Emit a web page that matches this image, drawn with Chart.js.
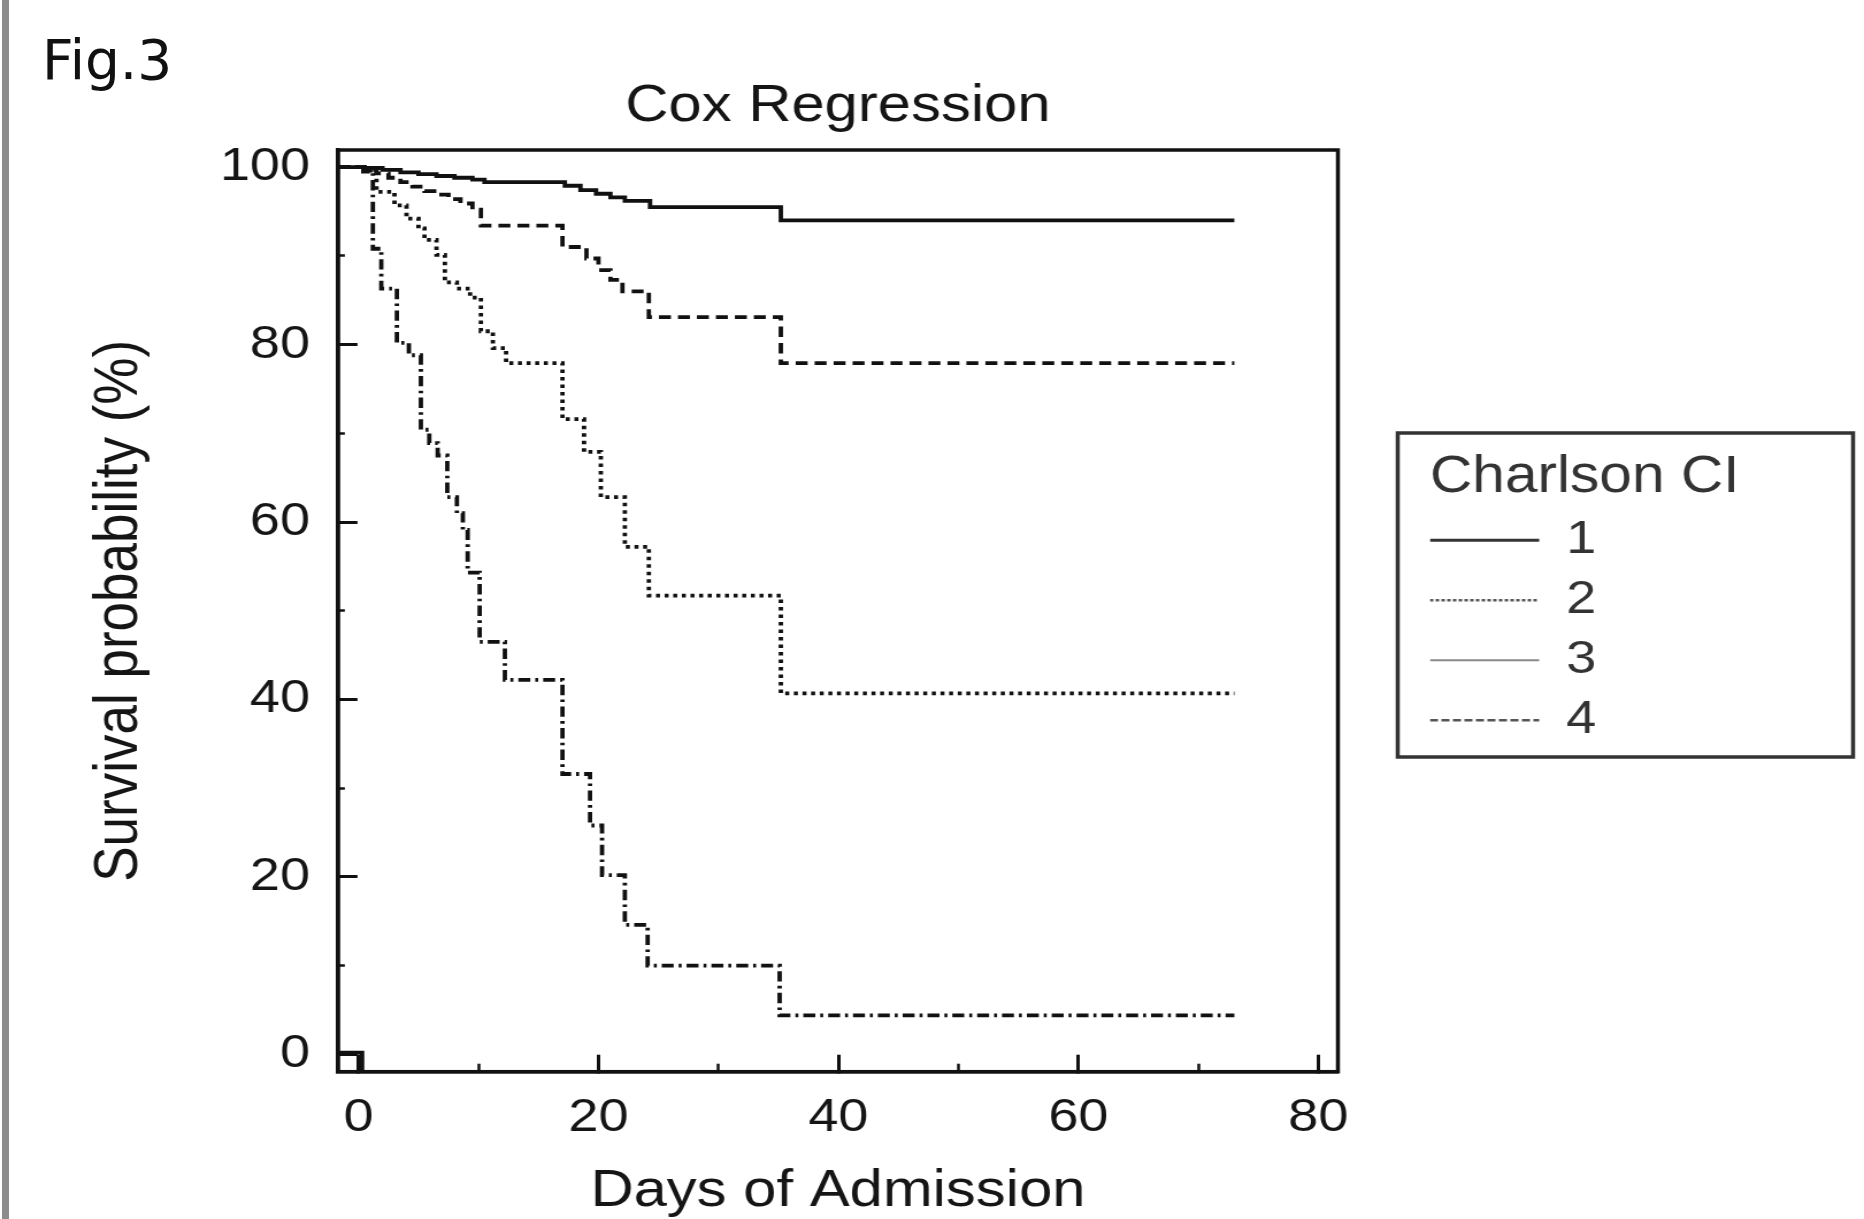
<!DOCTYPE html>
<html>
<head>
<meta charset="utf-8">
<title>Fig.3 - Cox Regression</title>
<script src="https://cdn.jsdelivr.net/npm/chart.js@4.4.1/dist/chart.umd.min.js"></script>
<style>
  html, body { margin: 0; padding: 0; background: #fff; }
  body { width: 1864px; height: 1219px; position: relative; overflow: hidden; }
  .barra { position: absolute; left: 2px; top: 0; width: 7px; height: 1219px; background: #8c8c8c; }
  .fig { position: absolute; left: 42px; top: 33px; font-family: "DejaVu Sans", Verdana, sans-serif;
         font-size: 55px; line-height: 55px; color: #111; z-index: 2; }
  #grafico { position: absolute; left: 0; top: 0; }
</style>
</head>
<body>
<div class="barra"></div>
<div class="fig">Fig.3</div>
<!-- el original viene estirado en horizontal, por eso el canvas es mas angosto que su ancho en pantalla -->
<canvas id="grafico" width="1621" height="1219" style="width:1864px;height:1219px"></canvas>
<script>
// curvas de supervivencia (dia del evento, % que sigue vivo desde ese dia)
const dias1   = [-1.7, 0.5, 2, 3.5, 5, 6.5, 8, 9.5, 10.5, 17.2, 18.5, 19.8, 21, 22.2, 24.3, 35.2, 73];
const superv1 = [100, 99.9, 99.7, 99.4, 99.2, 99.0, 98.8, 98.6, 98.3, 97.9, 97.4, 97.0, 96.6, 96.2, 95.5, 94.0, 94.0];

const dias2   = [-1.7, 0.5, 1.5, 2.5, 3.5, 4.5, 5.5, 6.5, 7.5, 8.5, 9.5, 10.2, 17.0, 19.0, 20.0, 21.0, 22.0, 24.2, 35.2, 73];
const superv2 = [100, 99.7, 99.3, 98.8, 98.3, 97.8, 97.3, 96.9, 96.4, 95.9, 95.2, 93.4, 91.0, 89.7, 88.4, 87.3, 86.0, 83.1, 77.9, 77.9];

const dias3   = [-1.7, 0.5, 1.5, 3.0, 4.0, 5.0, 5.5, 6.5, 7.2, 8.2, 9.3, 10.2, 11.2, 12.3, 17.0, 18.8, 20.2, 22.2, 24.2, 35.2, 73];
const superv3 = [100, 99.6, 97.2, 95.7, 94.2, 93.1, 91.8, 90.1, 87.0, 86.3, 85.3, 81.5, 79.6, 77.9, 71.6, 67.9, 62.8, 57.2, 51.7, 40.7, 40.7];

const dias4   = [-1.7, 0.4, 1.2, 1.9, 3.2, 4.2, 5.2, 5.9, 6.6, 7.4, 8.2, 8.7, 9.1, 10.1, 12.2, 17.0, 19.3, 20.3, 22.2, 24.1, 35.1, 73];
const superv4 = [100, 99.5, 90.8, 86.3, 80.2, 78.8, 70.4, 68.9, 67.5, 62.8, 61.0, 59.1, 54.3, 46.5, 42.2, 31.6, 25.8, 20.2, 14.6, 10.0, 4.4, 4.4];

// la marquita en el origen
const origenX = [-1.7, 0.3, 0.3];
const origenY = [0.2, 0.2, -1.95];

const etiquetasCCI = ['1', '2', '3', '4'];

// rangos de los ejes
const xMin = -1.71, xMax = 81.63;
const yMin = -1.95, yMax = 101.93;

// estilos
const trazos = [[], [10.4, 6.1], [3.5, 4], [10.4, 4.3, 2.6, 4.3]];
const leyendaDash = [[], [3, 2], [], [7, 3]];
const leyendaColor = ['#333', '#555', '#888', '#555'];
const leyendaGrosor = [3, 2.5, 2, 2.5];
const tinta = '#151515';

const puntos = (xs, ys) => xs.map((x, i) => ({x: x, y: ys[i]}));

const series = [dias1, dias2, dias3, dias4];
const valores = [superv1, superv2, superv3, superv4];

const datasets = etiquetasCCI.map((et, i) => ({
  label: et,
  data: puntos(series[i], valores[i]),
  borderDash: trazos[i],
  stepped: true
}));
datasets.push({label: 'origen', data: puntos(origenX, origenY), borderDash: [], stepped: false});
datasets.forEach(d => Object.assign(d, {borderColor: '#111', borderWidth: 3.8, pointRadius: 0, fill: false}));

Chart.defaults.font.family = '"Liberation Sans", Arial, sans-serif';
Chart.defaults.color = tinta;

// caja completa alrededor del area del grafico
const marcoPlot = {
  id: 'marcoPlot',
  afterDatasetsDraw(chart) {
    const {ctx, chartArea: a} = chart;
    ctx.save();
    ctx.strokeStyle = '#111';
    ctx.lineWidth = 3.5;
    ctx.strokeRect(a.left, a.top, a.right - a.left, a.bottom - a.top);
    ctx.restore();
  }
};

// la leyenda recorta lo que se sale de su caja, asi que le doy ancho fijo para que quepa el titulo
const anchoLeyenda = {
  id: 'anchoLeyenda',
  beforeLayout(chart) {
    const l = chart.legend;
    if (l && !l.fitOriginal) {
      l.fitOriginal = l.fit;
      l.fit = function () { this.fitOriginal(); this.width = 377.5; };
    }
  }
};

// recuadro de la leyenda
const marcoLeyenda = {
  id: 'marcoLeyenda',
  afterDraw(chart) {
    const l = chart.legend;
    const ctx = chart.ctx;
    ctx.save();
    ctx.strokeStyle = '#333';
    ctx.lineWidth = 3.5;
    ctx.strokeRect(l.left - 28, l.top + 283, 396, 324);
    ctx.restore();
  }
};

new Chart(document.getElementById('grafico'), {
  type: 'line',
  data: {datasets},
  plugins: [anchoLeyenda, marcoPlot, marcoLeyenda],
  options: {
    responsive: false,
    animation: false,
    events: [],
    layout: {padding: {left: 0, top: 0, bottom: 0, right: 0}},
    scales: {
      x: {
        type: 'linear', position: 'bottom', min: xMin, max: xMax, weight: 0,
        ticks: {stepSize: 20, includeBounds: false, padding: 35.5, maxRotation: 0, autoSkip: false,
                color: tinta, font: {size: 47}},
        grid: {drawOnChartArea: false, tickLength: -17, tickWidth: 3, tickColor: '#111'},
        border: {color: '#111', width: 3.5},
        title: {display: true, text: 'Days of Admission', color: tinta, font: {size: 52}, padding: {top: 0, bottom: -4}},
        afterFit: s => { s.height = 147.3; }
      },
      xMenor: {
        type: 'linear', position: 'bottom', min: xMin, max: xMax, weight: -1,
        ticks: {stepSize: 10, includeBounds: false, display: false},
        grid: {drawOnChartArea: false, tickLength: -8, tickWidth: 2.5, tickColor: '#111'},
        border: {display: false},
        afterFit: s => { s.height = 0; }
      },
      y: {
        type: 'linear', position: 'left', min: yMin, max: yMax, weight: 0,
        ticks: {stepSize: 20, includeBounds: false, padding: 41.3, color: tinta, font: {size: 47}},
        grid: {drawOnChartArea: false, tickLength: -17, tickWidth: 3, tickColor: '#111'},
        border: {color: '#111', width: 3.5},
        title: {display: true, text: 'Survival probability (%)', color: tinta, font: {size: 53}, padding: {top: 72.7, bottom: 0}},
        afterFit: s => { s.width = 293.9; }
      },
      yMenor: {
        type: 'linear', position: 'left', min: yMin, max: yMax, weight: -1,
        ticks: {stepSize: 10, includeBounds: false, display: false},
        grid: {drawOnChartArea: false, tickLength: -6, tickWidth: 2.5, tickColor: '#111'},
        border: {display: false},
        afterFit: s => { s.width = 0; }
      },
      // solo deja el hueco entre el grafico y la leyenda
      yDer: {
        type: 'linear', position: 'right', display: true,
        grid: {display: false}, border: {display: false}, ticks: {display: false},
        afterFit: s => { s.width = 80; }
      }
    },
    plugins: {
      tooltip: {enabled: false},
      title: {
        display: true, text: 'Cox Regression', fullSize: false, color: tinta,
        font: {size: 52, weight: 'normal'}, padding: {top: 75.8, bottom: 11.8}
      },
      legend: {
        position: 'right', align: 'start', fullSize: false,
        title: {display: true, text: 'Charlson CI', position: 'start', color: '#333',
                font: {size: 51}, padding: {top: 302, bottom: 3.6}},
        labels: {
          usePointStyle: true, pointStyleWidth: 95, padding: 0, color: '#222',
          font: {size: 47, lineHeight: '60px'},
          generateLabels: () => etiquetasCCI.map((t, i) => ({
            text: [t],
            datasetIndex: i,
            hidden: false,
            pointStyle: 'line',
            lineWidth: leyendaGrosor[i],
            strokeStyle: leyendaColor[i],
            fillStyle: leyendaColor[i],
            lineDash: leyendaDash[i]
          }))
        }
      }
    }
  }
});
</script>
</body>
</html>
